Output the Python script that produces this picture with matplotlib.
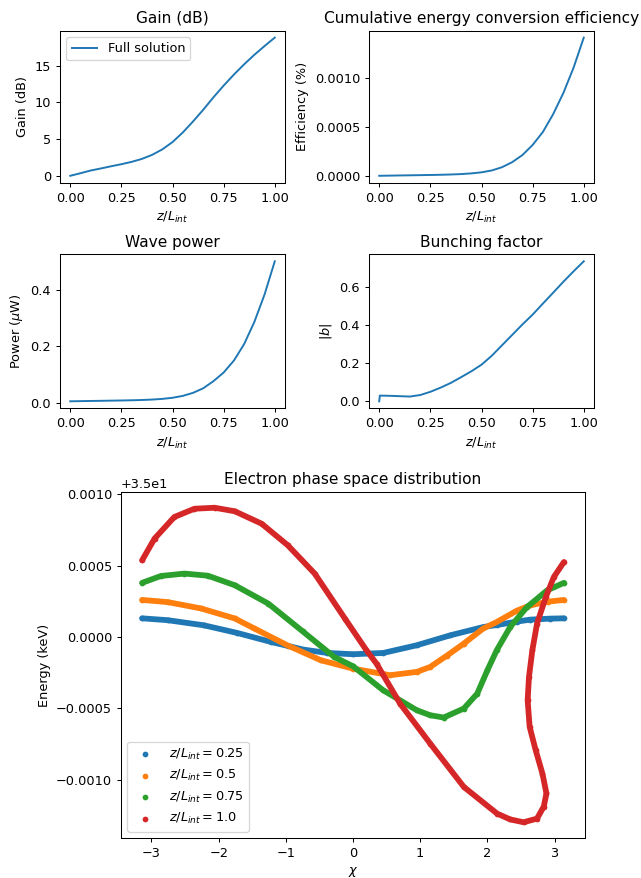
import numpy as np
import matplotlib
matplotlib.use('Agg')
import matplotlib.pyplot as plt

# axial position along the interaction length
z = [0.0, 0.05, 0.1, 0.15, 0.2, 0.25, 0.3, 0.35, 0.4, 0.45, 0.5,
     0.55, 0.6, 0.65, 0.7, 0.75, 0.8, 0.85, 0.9, 0.95, 1.0]
gain_db = [0.0, 0.35, 0.72, 1.0, 1.3, 1.58, 1.9, 2.3, 2.85, 3.6, 4.6,
           5.9, 7.4, 9.0, 10.7, 12.3, 13.8, 15.2, 16.5, 17.7, 18.85]
efficiency = [0.0, 0.0000017, 0.0000035, 0.000005, 0.0000066, 0.0000084,
              0.0000104, 0.0000133, 0.0000176, 0.0000245, 0.0000357,
              0.0000547, 0.000088, 0.00014, 0.000213, 0.000317, 0.00045,
              0.000632, 0.00085, 0.00111, 0.00142]
power_uw = [0.0066, 0.0072, 0.0078, 0.0083, 0.0089, 0.0095, 0.0102, 0.0112,
            0.0127, 0.0151, 0.019, 0.0256, 0.0363, 0.0524, 0.0775, 0.108,
            0.15, 0.208, 0.286, 0.383, 0.5]

z_b = [0.0, 0.003, 0.05, 0.1, 0.15, 0.2, 0.25, 0.3, 0.35, 0.4, 0.45, 0.5,
       0.55, 0.6, 0.65, 0.7, 0.75, 0.8, 0.85, 0.9, 0.95, 1.0]
bunching = [0.0, 0.03, 0.029, 0.027, 0.025, 0.033, 0.05, 0.072, 0.097, 0.127,
            0.158, 0.193, 0.24, 0.295, 0.35, 0.405, 0.457, 0.515, 0.572,
            0.63, 0.685, 0.738]

# phase space snapshots: phase chi and energy deviation from 35 keV
E0 = 35.0
chi_25 = [-3.14, -2.76, -2.22, -1.72, -1.22, -0.73, -0.38, 0.0, 0.45, 0.95,
          1.45, 1.94, 2.14, 2.44, 2.64, 2.94, 3.14]
dE_25 = [0.000131, 0.000118, 0.000082, 0.000028, -0.000035, -0.000089,
         -0.000112, -0.000121, -0.000112, -0.000058, 0.000012, 0.00007,
         0.000084, 0.000108, 0.000122, 0.000129, 0.000131]

chi_50 = [-3.14, -2.76, -2.26, -1.76, -1.47, -0.97, -0.48, 0.0, 0.55, 0.95,
          1.15, 1.4, 1.65, 1.94, 2.14, 2.44, 2.64, 2.9, 3.14]
dE_50 = [0.00026, 0.000245, 0.0002, 0.00013, 0.00006, -0.00006, -0.000163,
         -0.000222, -0.000268, -0.000245, -0.00021, -0.00013, -0.000046,
         0.00006, 0.000105, 0.000185, 0.000222, 0.000248, 0.00026]

chi_75 = [-3.14, -2.86, -2.51, -2.16, -1.76, -1.26, -0.75, -0.28, 0.0, 0.45,
          0.95, 1.15, 1.35, 1.65, 1.85, 2.0, 2.14, 2.34, 2.59, 2.89, 3.14]
dE_75 = [0.00038, 0.000428, 0.000445, 0.00043, 0.000363, 0.000234, 0.00004,
         -0.00014, -0.000205, -0.000374, -0.000514, -0.000549, -0.000565,
         -0.000502, -0.000397, -0.000234, -0.000093, 0.00007, 0.00021,
         0.000327, 0.00038]

chi_100 = [-3.14, -2.955, -2.66, -2.36, -2.06, -1.76, -1.36, -0.97, -0.57,
           -0.12, 0.2, 0.35, 0.7, 1.15, 1.65, 2.145, 2.34, 2.54, 2.74, 2.84,
           2.88, 2.82, 2.72, 2.63, 2.6, 2.62, 2.67, 2.74, 2.87, 2.99, 3.14]
dE_100 = [0.000538, 0.00069, 0.000842, 0.0009, 0.000907, 0.000882, 0.000795,
          0.000643, 0.000445, 0.000129, -0.000093, -0.000187, -0.000467,
          -0.000748, -0.001052, -0.001239, -0.00128, -0.0013, -0.001274,
          -0.00119, -0.001098, -0.000958, -0.000795, -0.000631, -0.000444,
          -0.00028, -0.000093, 0.000094, 0.00028, 0.000421, 0.000526]

snapshots = [('0.25', chi_25, dE_25), ('0.5', chi_50, dE_50),
             ('0.75', chi_75, dE_75), ('1.0', chi_100, dE_100)]

W, H = 641, 878
DPI = 92.5
fig = plt.figure(figsize=(W / DPI, H / DPI), dpi=DPI)


def box(x0, y0, x1, y1):
    return [x0 / W, 1 - y1 / H, (x1 - x0) / W, (y1 - y0) / H]


zlab = r'$z/L_{int}$'

ax = fig.add_axes(box(60, 30.7, 285, 182.7))
ax.plot(z, gain_db, label='Full solution')
ax.set_title('Gain (dB)')
ax.set_xlabel(zlab)
ax.set_ylabel('Gain (dB)')
ax.legend(loc='upper left')

ax = fig.add_axes(box(369, 30.7, 594, 182.7))
ax.plot(z, efficiency)
ax.set_title('Cumulative energy conversion efficiency')
ax.set_xlabel(zlab)
ax.set_ylabel('Efficiency (%)')

ax = fig.add_axes(box(60, 254.3, 285, 408.3))
ax.plot(z, power_uw)
ax.set_title('Wave power')
ax.set_xlabel(zlab)
ax.set_ylabel(r'Power ($\mu$W)')

ax = fig.add_axes(box(369, 254.3, 594, 408.3))
ax.plot(z_b, bunching)
ax.set_title('Bunching factor')
ax.set_xlabel(zlab)
ax.set_ylabel(r'$|b|$')

ax = fig.add_axes(box(121, 492, 585, 838))
for i, (zl, chi, dE) in enumerate(snapshots):
    E = E0 + np.array(dE)
    ax.plot(chi, E, '-', color=f'C{i}', lw=4.5, solid_capstyle='round',
            solid_joinstyle='round')
    ax.scatter(chi, E, s=20, linewidths=0, color=f'C{i}',
               label=r'$z/L_{int} = $' + zl)
ax.set_title('Electron phase space distribution')
ax.set_xlabel(r'$\chi$')
ax.set_ylabel('Energy (keV)')
ax.legend(loc='lower left')

fig.savefig('out.png', dpi=DPI)
